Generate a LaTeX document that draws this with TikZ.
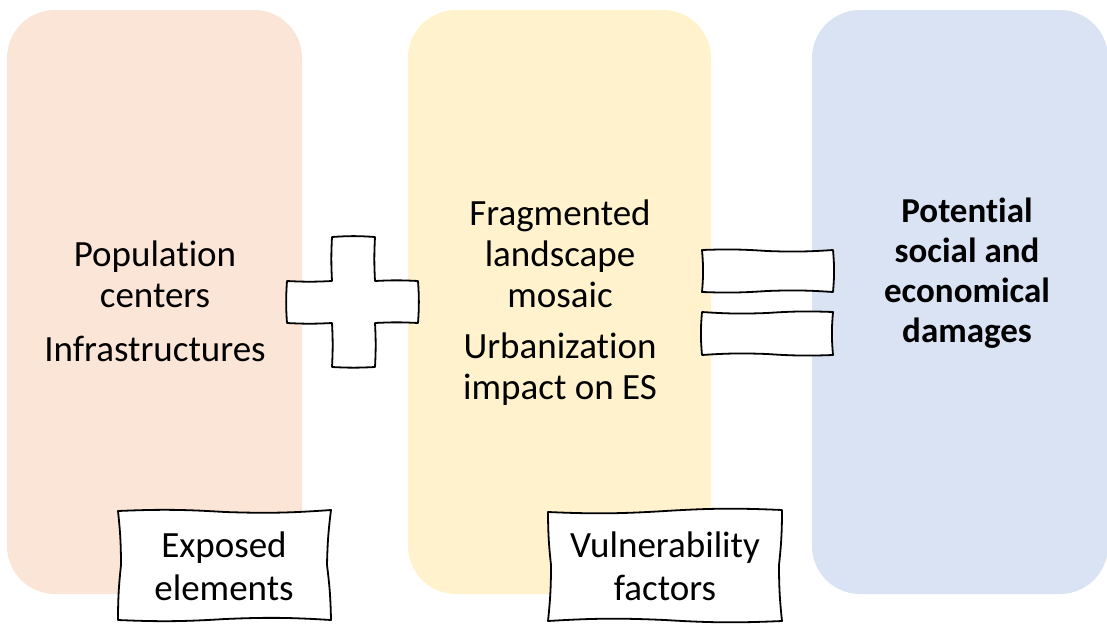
\documentclass[tikz,border=0pt]{standalone}
\usepackage{fontspec}
\setmainfont{Carlito}[RawFeature=-liga]
\definecolor{pinkc}{HTML}{FBE5D6}
\definecolor{yellowc}{HTML}{FFF2CC}
\definecolor{bluec}{HTML}{DAE3F3}
\begin{document}
\begin{tikzpicture}[x=1pt,y=-1pt,
  column/.style={fill=#1, rounded corners=48pt},
  txt/.style={align=center, font=\fontsize{37}{41}\selectfont, inner sep=0pt},
  hand/.style={draw=black, line width=1.8pt, fill=white, line join=round},
  caption/.style={align=center, font=\fontsize{37}{43}\selectfont, inner sep=0pt}]
\useasboundingbox (0,0) rectangle (1107,624);
% columns
\fill[column=pinkc] (7,10) rectangle (302,594);
\fill[column=yellowc] (408,10) rectangle (711,594);
\fill[column=bluec] (812,10) rectangle (1108,594);
% plus sign
\path[hand] (332,237) to[bend left=4] (375,237) to[bend right=3] (375,281)
  to[bend left=3] (418,281) to[bend left=4] (418,323) to[bend right=3] (375,323)
  to[bend left=3] (375,367) to[bend left=3] (332,367) to[bend right=3] (332,323)
  to[bend left=3] (287,323) to[bend left=4] (287,281) to[bend right=3] (332,281)
  to[bend left=3] (332,237) -- cycle;
% equals sign
\path[hand] (702,250) to[bend left=3] (767,251) to[bend right=3] (833,250)
  to[bend left=5] (833,292) to[bend right=3] (767,291) to[bend left=3] (702,292)
  to[bend right=5] (702,250) -- cycle;
\path[hand] (702,312) to[bend right=3] (767,313) to[bend left=3] (833,312)
  to[bend right=5] (833,355) to[bend left=3] (767,354) to[bend right=3] (702,355)
  to[bend left=5] (702,312) -- cycle;
% texts
\node[txt] (pop) at (155,274.5) {Population\\centers};
\node[txt] (inf) at (155,349) {Infrastructures};
\node[txt] (frag) at (560,254) {Fragmented\\landscape\\mosaic};
\node[txt] (urb) at (560,369.5) {Urbanization\\impact on ES};
\node[txt, font=\fontsize{35}{40}\selectfont\bfseries] (pot) at (967,273.5) {Potential\\social and\\economical\\damages};
% caption boxes
\path[hand] (118,511) to[bend left=3] (225,512) to[bend right=3] (331,510)
  to[bend right=3] (327,565) to[bend left=3] (331,620) to[bend right=3] (225,619)
  to[bend left=3] (118,620) to[bend left=3] (121,565) to[bend right=3] (118,511) -- cycle;
\path[hand] (548,512) to[bend right=3] (665,511) to[bend left=3] (782,510)
  to[bend left=3] (779,565) to[bend right=3] (782,621) to[bend left=3] (665,620)
  to[bend right=3] (548,621) to[bend right=3] (551,565) to[bend left=3] (548,512) -- cycle;
\node[caption] (exp) at (224,566) {Exposed\\elements};
\node[caption] (vul) at (665,566) {Vulnerability\\factors};
\end{tikzpicture}
\end{document}
